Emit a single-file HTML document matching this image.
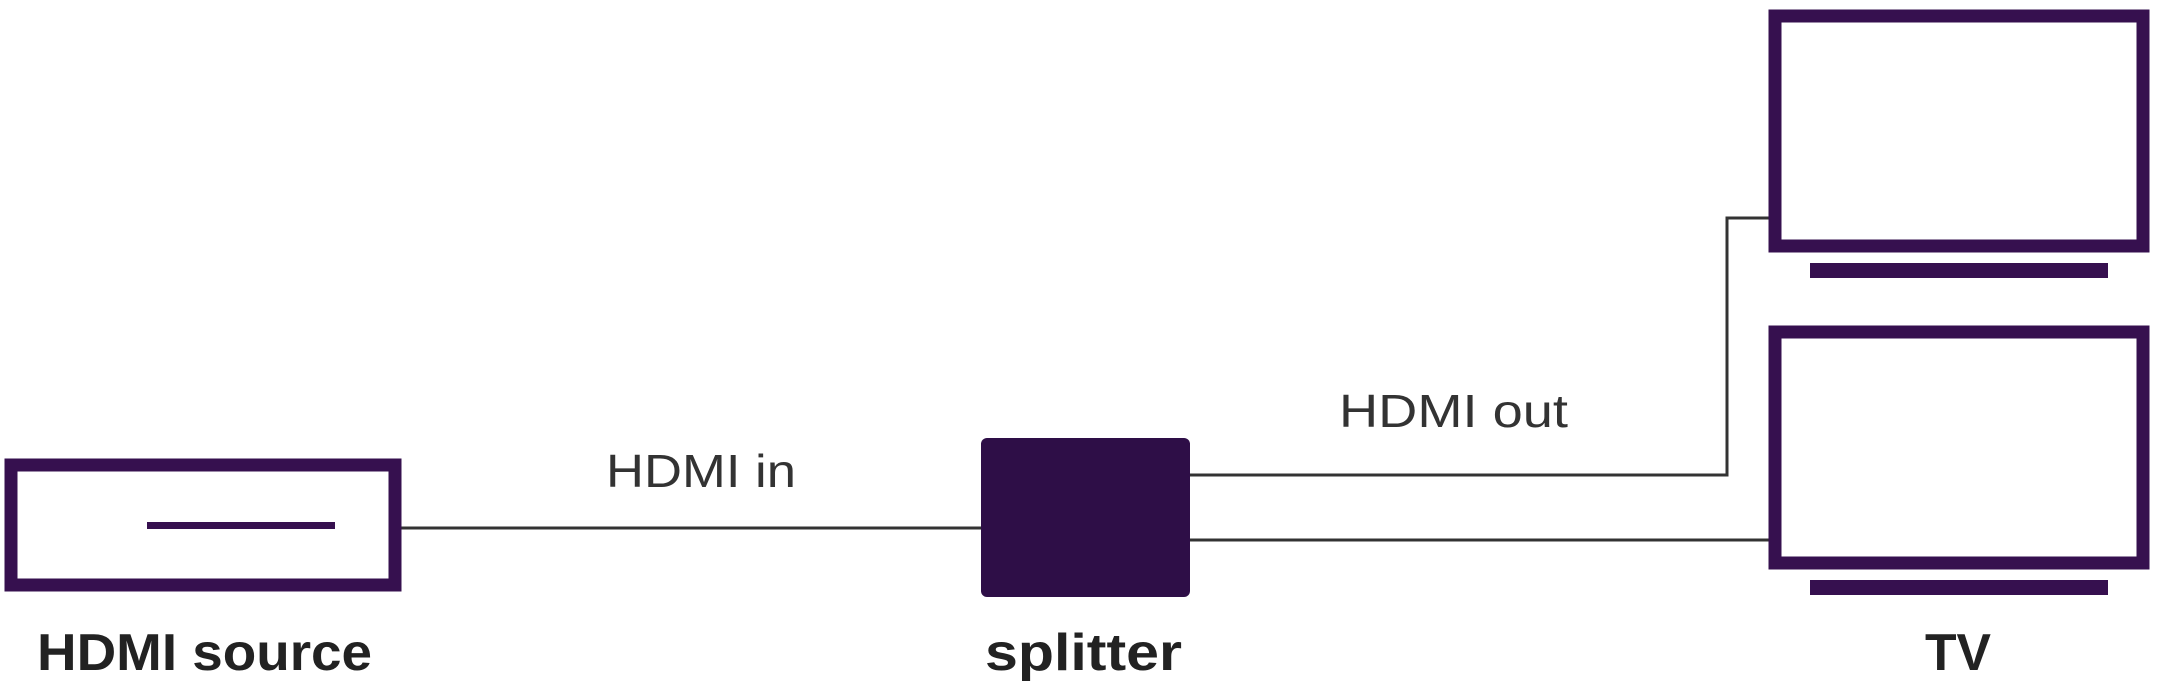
<!DOCTYPE html>
<html><head><meta charset="utf-8"><style>
html,body{margin:0;padding:0;background:#fff;}
body{width:2160px;height:684px;overflow:hidden;position:relative;}
</style></head><body>
<svg width="2160" height="684" viewBox="0 0 2160 684" xmlns="http://www.w3.org/2000/svg">
<g fill="none" stroke="#333" stroke-width="3">
<line x1="401" y1="528" x2="985" y2="528"/>
<polyline points="1186,475 1727,475 1727,218 1772,218"/>
<line x1="1186" y1="540" x2="1772" y2="540"/>
</g>
<g fill="none" stroke="#36104f" stroke-width="13">
<rect x="11" y="465" width="384" height="120"/>
<rect x="1775" y="16" width="368" height="230"/>
<rect x="1775" y="332" width="368" height="231"/>
</g>
<g fill="#36104f">
<rect x="147" y="522" width="188" height="7"/>
<rect fill="#2e0e47" x="981" y="438" width="209" height="159" rx="6"/>
<rect x="1810" y="263" width="298" height="15"/>
<rect x="1810" y="580" width="298" height="15"/>
</g>
<g font-family="Liberation Sans, sans-serif">
<text x="606" y="487" font-size="46" fill="#333" textLength="190" lengthAdjust="spacingAndGlyphs">HDMI in</text>
<text x="1339" y="427" font-size="46" fill="#333" textLength="229" lengthAdjust="spacingAndGlyphs">HDMI out</text>
<text x="37" y="670" font-size="52" font-weight="bold" fill="#222" textLength="335" lengthAdjust="spacingAndGlyphs">HDMI source</text>
<text x="985" y="670" font-size="52" font-weight="bold" fill="#222" textLength="197" lengthAdjust="spacingAndGlyphs">splitter</text>
<text x="1925" y="670" font-size="52" font-weight="bold" fill="#222" textLength="66" lengthAdjust="spacingAndGlyphs">TV</text>
</g>
</svg>
</body></html>
